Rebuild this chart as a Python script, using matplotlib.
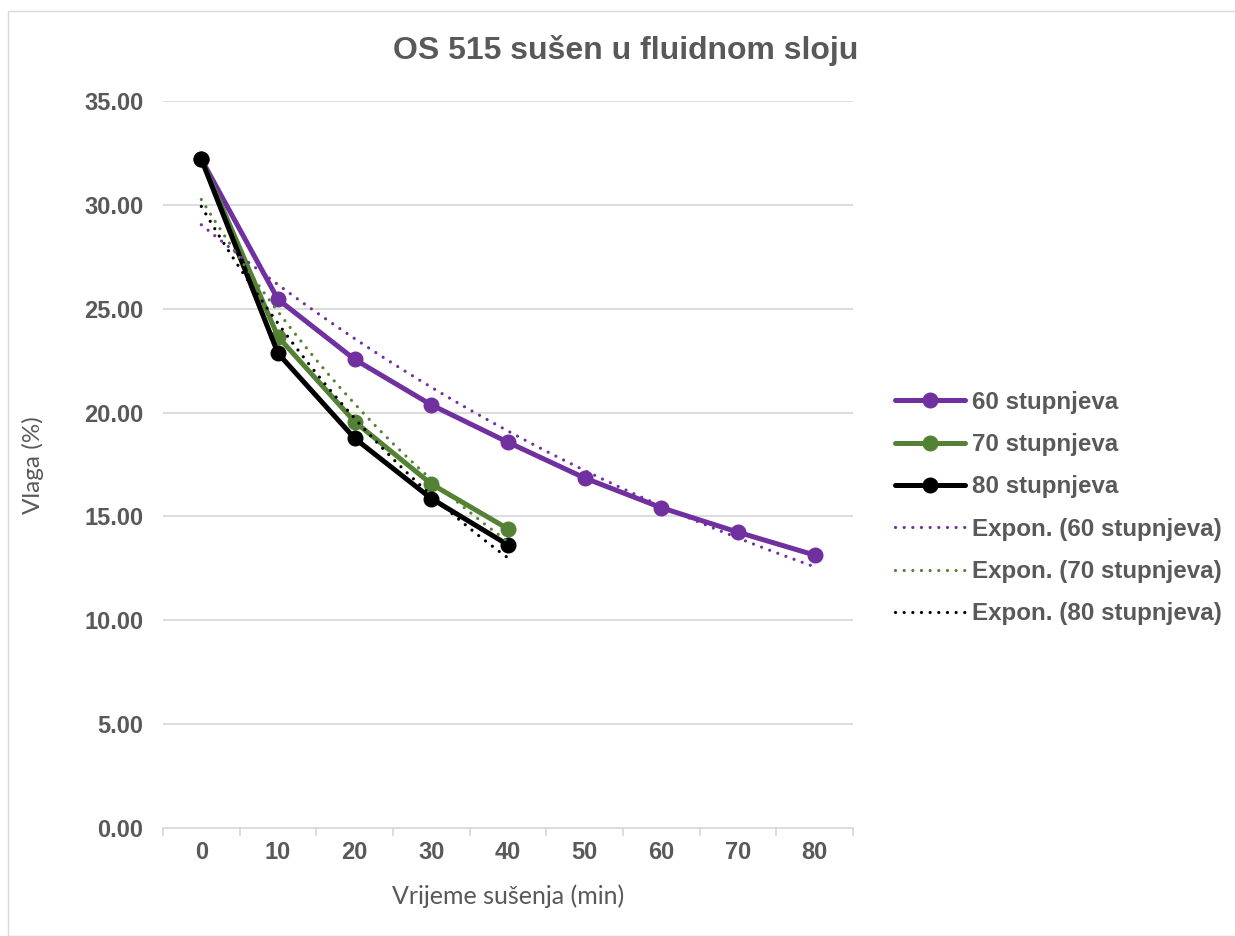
import numpy as np
import matplotlib
matplotlib.use("Agg")
import matplotlib.pyplot as plt
from matplotlib.patches import Rectangle

# ---- data ----
categories = ["0", "10", "20", "30", "40", "50", "60", "70", "80"]
s60 = [32.2, 25.45, 22.56, 20.37, 18.57, 16.85, 15.42, 14.24, 13.14]
s70 = [32.2, 23.65, 19.56, 16.56, 14.40]
s80 = [32.2, 22.85, 18.76, 15.86, 13.63]
series_names = ["60 stupnjeva", "70 stupnjeva", "80 stupnjeva"]
yticks = [0, 5, 10, 15, 20, 25, 30, 35]

colors = ["#7030A0", "#548235", "#000000"]
gray = "#595959"

W, H = 1235, 936
fig = plt.figure(figsize=(W / 100, H / 100), dpi=100)
fig.patch.set_facecolor("white")
fig.add_artist(Rectangle((8 / W, 0), 1.0, 1 - 11 / H, transform=fig.transFigure,
                         fill=False, edgecolor="#D9D9D9", linewidth=1.0))

ax = fig.add_axes([163 / W, 1 - 828 / H, (853 - 163) / W, (828 - 101) / H])
ax.set_xlim(-0.5, len(categories) - 0.5)
ax.set_ylim(0, 35)

for v in yticks[1:]:
    ax.axhline(v, color="#D9D9D9", linewidth=1.3, zorder=0)

handles = []
for name, data, c in zip(series_names, [s60, s70, s80], colors):
    x = np.arange(len(data))
    h, = ax.plot(x, data, color=c, linewidth=3.6, marker="o", markersize=10.5,
                 solid_capstyle="round", zorder=3, label=name)
    handles.append(h)

trend_handles = []
for name, data, c in zip(series_names, [s60, s70, s80], colors):
    x = np.arange(len(data))
    b, lna = np.polyfit(x + 1, np.log(data), 1)
    xs = np.linspace(0, len(data) - 1, 200)
    ys = np.exp(lna + b * (xs + 1))
    h, = ax.plot(xs, ys, color=c, linewidth=2.3, linestyle=(0, (0.01, 2.7)),
                 dash_capstyle="round", zorder=4, label="Expon. (" + name + ")")
    trend_handles.append(h)

ax.set_xticks(range(len(categories)))
ax.set_xticklabels(categories)
ax.set_xticks(np.arange(-0.5, len(categories)), minor=True)
ax.tick_params(axis="x", which="major", length=0, pad=9.5)
ax.tick_params(axis="x", which="minor", length=6, color="#D9D9D9", width=1.3)
ax.set_yticks(yticks)
ax.set_yticklabels(["%.2f" % v for v in yticks])
ax.tick_params(axis="y", length=0, pad=14)
for lab in ax.get_xticklabels() + ax.get_yticklabels():
    lab.set_fontfamily("Liberation Sans")
    lab.set_fontweight("bold")
    lab.set_fontsize(17)
    lab.set_color(gray)

for s in ["top", "right", "left"]:
    ax.spines[s].set_visible(False)
ax.spines["bottom"].set_color("#D9D9D9")
ax.spines["bottom"].set_linewidth(1.3)

ax.set_xlabel("Vrijeme sušenja (min)", fontsize=18, color=gray,
              fontfamily="Lato")
ax.set_ylabel("Vlaga (%)", fontsize=17.5, color=gray, fontfamily="Lato")
ax.xaxis.set_label_coords((508 - 163) / (853 - 163), (828 - 896) / (828 - 101))
ax.yaxis.set_label_coords((33 - 163) / (853 - 163), (828 - 465) / (828 - 101))
ax.xaxis.label.set_va("center")
ax.yaxis.label.set_va("center")

fig.text(626 / W, 1 - 50 / H, "OS 515 sušen u fluidnom sloju", ha="center",
         va="center", fontsize=23, fontweight="bold", color=gray,
         fontfamily="Liberation Sans")

leg = fig.legend(handles + trend_handles,
                 [h.get_label() for h in handles + trend_handles],
                 loc="center left", bbox_to_anchor=(895 / W, 1 - 508 / H),
                 frameon=False, handlelength=2.9, handletextpad=0.29,
                 labelspacing=0.8, borderpad=0, borderaxespad=0,
                 prop={"family": "Liberation Sans", "weight": "bold", "size": 17.4})
for t in leg.get_texts():
    t.set_color(gray)

fig.savefig("out.png", dpi=100, facecolor="white")
